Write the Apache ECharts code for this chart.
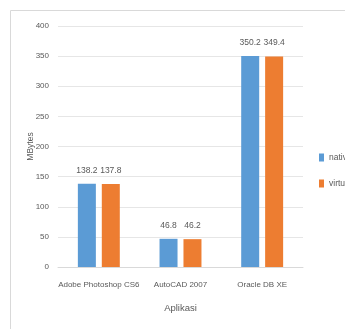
<!DOCTYPE html>
<html>
<head>
<meta charset="utf-8">
<script src="https://cdn.jsdelivr.net/npm/echarts@6/dist/echarts.min.js"></script>
<style>
  html, body { margin: 0; padding: 0; background: #fff; }
  #chart { width: 345px; height: 329px; }
</style>
</head>
<body>
<div id="chart"></div>
<script>
var categories = ['Adobe Photoshop CS6', 'AutoCAD 2007', 'Oracle DB XE'];
var nativeValues = [138.2, 46.8, 350.2];
var virtualValues = [137.8, 46.2, 349.4];

var font = '"Liberation Sans Narrow", "Liberation Sans", sans-serif';
var textColor = '#595959';

var chart = echarts.init(document.getElementById('chart'));

var option = {
    animation: false,
    color: ['#5B9BD5', '#ED7D31'],
    textStyle: { fontFamily: font },
    graphic: [
        {
            type: 'rect',
            shape: { x: 10.5, y: 10.5, width: 400, height: 330 },
            style: { fill: 'none', stroke: '#d9d9d9', lineWidth: 1 }
        }
    ],
    grid: {
        left: 58,
        right: 42,
        top: 26,
        bottom: 62
    },
    legend: {
        orient: 'vertical',
        left: 314,
        top: 148,
        itemWidth: 5,
        itemHeight: 8,
        itemGap: 17,
        icon: 'rect',
        textStyle: { fontFamily: font, fontSize: 8.5, color: textColor },
        data: ['native', 'virtual']
    },
    xAxis: {
        type: 'category',
        data: categories,
        name: 'Aplikasi',
        nameLocation: 'middle',
        nameGap: 36,
        nameTextStyle: { fontFamily: font, fontSize: 9.5, color: textColor },
        axisLine: { lineStyle: { color: '#d9d9d9' } },
        axisTick: { show: false },
        axisLabel: { fontFamily: font, fontSize: 8, color: textColor, margin: 14, interval: 0 }
    },
    yAxis: {
        type: 'value',
        min: 0,
        max: 400,
        interval: 50,
        name: 'MBytes',
        nameLocation: 'middle',
        nameGap: 23,
        nameMoveOverlap: false,
        nameTextStyle: { fontFamily: font, fontSize: 8.5, color: textColor },
        axisLine: { show: false },
        axisTick: { show: false },
        axisLabel: { fontFamily: font, fontSize: 8, color: textColor, margin: 9 },
        splitLine: { lineStyle: { color: '#e6e6e6' } }
    },
    series: [
        {
            name: 'native',
            type: 'bar',
            data: nativeValues,
            barWidth: 18,
            barGap: '33%',
            label: { show: true, position: 'top', distance: 9, fontFamily: font, fontSize: 8.5, color: textColor }
        },
        {
            name: 'virtual',
            type: 'bar',
            data: virtualValues,
            barWidth: 18,
            label: { show: true, position: 'top', distance: 9, fontFamily: font, fontSize: 8.5, color: textColor }
        }
    ]
};

chart.setOption(option);
</script>
</body>
</html>
